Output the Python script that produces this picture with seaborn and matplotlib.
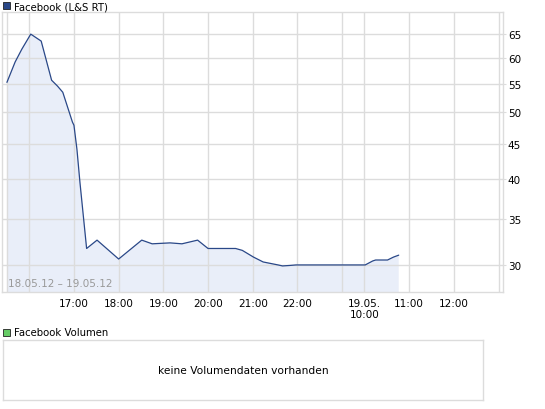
import numpy as np
import pandas as pd
import matplotlib
matplotlib.use("Agg")
import matplotlib.pyplot as plt
import seaborn as sns

# price series (18.05.12 afternoon + 19.05.12 morning)
times = ["18.05. 15:30", "18.05. 15:41", "18.05. 15:50", "18.05. 16:02", "18.05. 16:16",
         "18.05. 16:30", "18.05. 16:38", "18.05. 16:45", "18.05. 16:58", "18.05. 17:00",
         "18.05. 17:04", "18.05. 17:08", "18.05. 17:17", "18.05. 17:31", "18.05. 18:00",
         "18.05. 18:31", "18.05. 18:45", "18.05. 19:09", "18.05. 19:25", "18.05. 19:46",
         "18.05. 20:00", "18.05. 20:37", "18.05. 20:46", "18.05. 21:01", "18.05. 21:14",
         "18.05. 21:34", "18.05. 21:40", "18.05. 21:50", "18.05. 21:58", "19.05. 10:01",
         "19.05. 10:11", "19.05. 10:15", "19.05. 10:31", "19.05. 10:39", "19.05. 10:46"]
prices = [55.3, 59.2, 61.8, 65.0, 63.5,
          55.7, 54.6, 53.5, 48.4, 47.9,
          44.2, 39.6, 31.7, 32.6, 30.6,
          32.6, 32.2, 32.3, 32.2, 32.6,
          31.7, 31.7, 31.5, 30.8, 30.3,
          30.0, 29.9, 29.95, 30.0, 30.0,
          30.4, 30.5, 30.5, 30.8, 31.0]

y_ticks = [30, 35, 40, 45, 50, 55, 60, 65]
x_tick_labels = ["17:00", "18:00", "19:00", "20:00", "21:00", "22:00", "19.05.\n10:00", "11:00", "12:00"]
x_tick_times = ["18.05. 17:00", "18.05. 18:00", "18.05. 19:00", "18.05. 20:00", "18.05. 21:00",
                "18.05. 22:00", "19.05. 10:00", "19.05. 11:00", "19.05. 12:00"]
grid_times = ["18.05. 15:30", "18.05. 16:00", "18.05. 23:00", "19.05. 13:00"]


def pos(t):
    # compressed session axis: night between the two days squeezed to half an hour
    day, hm = t.split()
    h, m = hm.split(":")
    p = int(h) + int(m) / 60
    if day == "19.05.":
        p += 13.5
    return p


df = pd.DataFrame({"pos": [pos(t) for t in times], "price": prices})

line_col = "#2a4888"
fill_col = "#e9eef9"
grid_col = "#dcdcdc"

sns.set_style("white")
plt.rcParams["font.family"] = ["DejaVu Sans"]
plt.rcParams["text.color"] = "black"
plt.rcParams["xtick.color"] = "black"
plt.rcParams["ytick.color"] = "black"

fig = plt.figure(figsize=(5.45, 4.10), dpi=100)
ax = fig.add_axes([2 / 545, 1 - 293 / 410, 501 / 545, 280 / 410])

ax.fill_between(df["pos"], df["price"], 1, color=fill_col, zorder=1, lw=0)
sns.lineplot(data=df, x="pos", y="price", ax=ax, color=line_col, lw=0.9, zorder=3)

ax.set_yscale("log")
ax.set_ylim(27.4, 70)
ax.set_xlim(15.39, 26.6)

ax.yaxis.tick_right()
ax.set_yticks(y_ticks)
ax.set_yticklabels([str(v) for v in y_ticks])
ax.yaxis.set_minor_locator(matplotlib.ticker.NullLocator())
ax.tick_params(axis="y", length=2, color=grid_col, labelcolor="black", labelsize=7.5, pad=1.5)

xt = [pos(t) for t in x_tick_times]
ax.set_xticks(xt)
ax.set_xticklabels(x_tick_labels, fontsize=7.5, va="top", linespacing=1.15)
ax.tick_params(axis="x", length=0, pad=4, labelcolor="black")
ax.set_xlabel("")
ax.set_ylabel("")

for x in xt + [pos(t) for t in grid_times]:
    ax.axvline(x, color=grid_col, lw=1, zorder=2)
for y in y_ticks:
    ax.axhline(y, color=grid_col, lw=1, zorder=2)

for s in ax.spines.values():
    s.set_color(grid_col)
    s.set_linewidth(1)

ax.text(0.011, 0.015, "18.05.12 – 19.05.12", transform=ax.transAxes,
        fontsize=7.5, color="#999999", ha="left", va="bottom", zorder=4)

# legend header for the price chart
fig.patches.append(plt.Rectangle((3 / 545, 1 - 10 / 410), 7 / 545, 7 / 410,
                                 transform=fig.transFigure, facecolor=line_col,
                                 edgecolor="#222222", lw=0.6))
fig.text(14 / 545, 1 - 7 / 410, "Facebook (L&S RT)", fontsize=7.3, va="center", ha="left")

# volume panel (empty)
vax = fig.add_axes([3 / 545, 1 - 401 / 410, 480 / 545, 60 / 410])
vax.set_xticks([])
vax.set_yticks([])
for s in vax.spines.values():
    s.set_color(grid_col)
    s.set_linewidth(1)
vax.text(0.5, 0.5, "keine Volumendaten vorhanden", transform=vax.transAxes,
         ha="center", va="center", fontsize=7.7)

fig.patches.append(plt.Rectangle((3 / 545, 1 - 337 / 410), 7 / 545, 7 / 410,
                                 transform=fig.transFigure, facecolor="#66cc66",
                                 edgecolor="#222222", lw=0.6))
fig.text(14 / 545, 1 - 333 / 410, "Facebook Volumen", fontsize=7.3, va="center", ha="left")

fig.savefig("out.png", dpi=100)
